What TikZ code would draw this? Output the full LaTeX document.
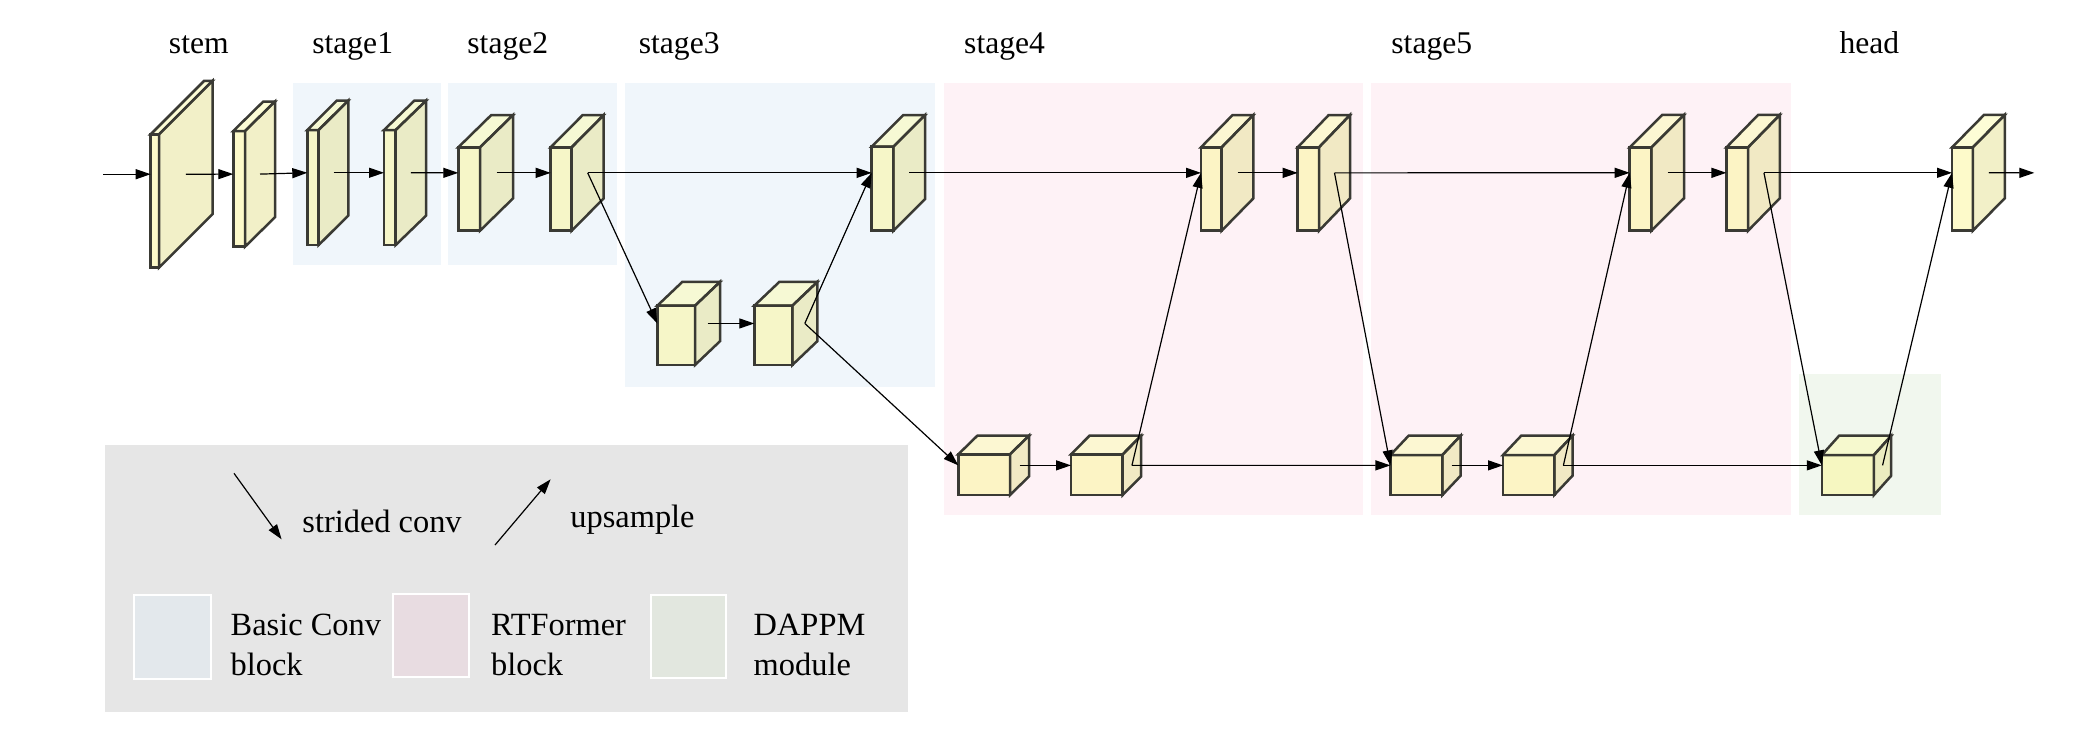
\documentclass[tikz,border=0pt]{standalone}
\usepackage{fontspec}
\setmainfont{Liberation Serif}
\usetikzlibrary{arrows.meta}
\definecolor{bgblue}{RGB}{240,246,251}
\definecolor{bgpink}{RGB}{254,242,246}
\definecolor{bggreen}{RGB}{241,247,238}
\definecolor{leggray}{RGB}{230,230,230}
\definecolor{swblue}{RGB}{227,232,236}
\definecolor{swpink}{RGB}{232,220,225}
\definecolor{swgreen}{RGB}{226,231,223}
\definecolor{cbfront}{RGB}{252,247,150}
\definecolor{cbside}{RGB}{230,226,147}
\definecolor{cbtop}{RGB}{252,252,175}
\definecolor{cbline}{RGB}{58,58,52}
\newcommand{\cuboid}[7]{%
  \pgfmathsetmacro{\cbXa}{#2}%
  \pgfmathsetmacro{\cbXb}{#2+#4}%
  \pgfmathsetmacro{\cbXc}{#2+#4+#6}%
  \pgfmathsetmacro{\cbXd}{#2+#6}%
  \pgfmathsetmacro{\cbYa}{#3}%
  \pgfmathsetmacro{\cbYb}{#3+#5}%
  \pgfmathsetmacro{\cbYt}{#3-#7}%
  \pgfmathsetmacro{\cbYbt}{#3+#5-#7}%
  \pgfmathsetmacro{\cbYm}{#3+#5/2-#7/2}%
  \pgfmathsetmacro{\cbXo}{#2+#4+#6/2}%
  \draw[boxline, fill=cbfront] (\cbXa,\cbYa) rectangle (\cbXb,\cbYb);
  \draw[boxline, fill=cbtop] (\cbXa,\cbYa) -- (\cbXd,\cbYt) -- (\cbXc,\cbYt) -- (\cbXb,\cbYa) -- cycle;
  \draw[boxline, fill=cbside] (\cbXb,\cbYa) -- (\cbXc,\cbYt) -- (\cbXc,\cbYbt) -- (\cbXb,\cbYb) -- cycle;
  \coordinate (#1-in) at (\cbXa,\cbYm);
  \coordinate (#1-out) at (\cbXo,\cbYm);
}
\begin{document}
\begin{tikzpicture}[x=0.5pt,y=-0.5pt,
  boxline/.style={draw=cbline, line width=1.25pt, line join=miter, fill opacity=0.5},
  arr/.style={-{Triangle[length=7.5pt,width=5pt]}, line width=0.6pt, black},
  lab/.style={font=\fontsize{15.8}{19}\selectfont, inner sep=0pt, anchor=base},
  legtext/.style={font=\fontsize{16.2}{19}\selectfont, inner sep=0pt, anchor=base west}]
\useasboundingbox (0,0) rectangle (2082,736);
\fill[white] (0,0) rectangle (2082,736);
% stage backgrounds
\fill[bgblue] (292.7,82.7) rectangle (440.7,265.3);
\fill[bgblue] (448.3,82.7) rectangle (616.7,265.3);
\fill[bgblue] (625,82.7) rectangle (935,386.7);
\fill[bgpink] (944,82.7) rectangle (1363.3,515);
\fill[bgpink] (1371,82.7) rectangle (1791,515);
\fill[bggreen] (1799,374.3) rectangle (1941,515);
% legend background
\fill[leggray] (104.5,445) rectangle (908,711.7);
% stage labels
\node[lab] (lstem) at (198.8,53.3) {stem};
\node[lab] (lst1) at (352.7,53.3) {stage1};
\node[lab] (lst2) at (507.8,53.3) {stage2};
\node[lab] (lst3) at (679.2,53.3) {stage3};
\node[lab] (lst4) at (1004.6,53.3) {stage4};
\node[lab] (lst5) at (1431.8,53.3) {stage5};
\node[lab] (lhead) at (1869.4,53.3) {head};
% cuboids
\cuboid{stemA}{150.7}{134.3}{8.3}{133.3}{53.5}{53.5}
\cuboid{stemB}{233.3}{131}{11.7}{115.7}{30}{29.5}
\cuboid{sAa}{307.3}{130}{11.4}{115}{29.6}{29.5}
\cuboid{sAb}{384}{130}{11.7}{115}{30.5}{29.5}
\cuboid{sBa}{458.3}{147.3}{21.7}{83.4}{33}{32.3}
\cuboid{sBb}{550.7}{147.3}{21}{83.4}{32}{32.3}
\cuboid{sCt}{871.7}{146.7}{21.6}{84}{31.7}{31.7}
\cuboid{sCa}{657.3}{305.7}{37.7}{59.3}{25}{23.8}
\cuboid{sCb}{754.3}{305.7}{38}{59.3}{25}{23.8}
\cuboid{sDta}{1201}{147.3}{20.7}{83.4}{31.6}{32.3}
\cuboid{sDtb}{1297.7}{147.3}{21.3}{83.4}{31}{32.3}
\cuboid{sDla}{958.3}{454.3}{51.7}{40.7}{19}{18.6}
\cuboid{sDlb}{1071}{454.3}{51.7}{40.7}{18.5}{18.6}
\cuboid{sEta}{1629.7}{147.4}{21.7}{83.3}{32.6}{32.5}
\cuboid{sEtb}{1726.4}{147.4}{21.7}{83.3}{31.7}{32.5}
\cuboid{sEla}{1390.4}{455}{52}{40}{18.2}{19.3}
\cuboid{sElb}{1503}{455}{51.3}{40}{18.2}{19.3}
\cuboid{hdt}{1952}{147.4}{20.8}{83.3}{32}{32.5}
\cuboid{hdl}{1821.8}{455}{52.1}{40}{17.3}{19.3}
\coordinate (inp) at (103.3,174.2);
\coordinate (outp) at (2034.3,172.85);
% connectors
\draw[arr] (inp) -- (stemA-in);
\draw[arr] (stemA-out) -- (stemB-in);
\draw[arr] (stemB-out) -- (sAa-in);
\draw[arr] (sAa-out) -- (sAb-in);
\draw[arr] (sAb-out) -- (sBa-in);
\draw[arr] (sBa-out) -- (sBb-in);
\draw[arr] (sBb-out) -- (sCt-in);
\draw[arr] (sBb-out) -- (sCa-in);
\draw[arr] (sCa-out) -- (sCb-in);
\draw[arr] (sCb-out) -- (sCt-in);
\draw[arr] (sCb-out) -- (sDla-in);
\draw[arr] (sCt-out) -- (sDta-in);
\draw[arr] (sDla-out) -- (sDlb-in);
\draw[arr] (sDlb-out) -- (sDta-in);
\draw[arr] (sDta-out) -- (sDtb-in);
\draw[arr] (sDtb-out) -- (sEta-in);
\draw[arr] (sDtb-out) -- (sEla-in);
\draw[arr] (sDlb-out) -- (sEla-in);
\draw[arr] (sEla-out) -- (sElb-in);
\draw[arr] (sElb-out) -- (sEta-in);
\draw[arr] (sEta-out) -- (sEtb-in);
\draw[arr] (sEtb-out) -- (hdt-in);
\draw[arr] (sEtb-out) -- (hdl-in);
\draw[arr] (sElb-out) -- (hdl-in);
\draw[arr] (hdl-out) -- (hdt-in);
\draw[arr] (hdt-out) -- (outp);
% legend
\coordinate (lgsA) at (234,473.3);
\coordinate (lgsB) at (281.6,539.3);
\coordinate (lguA) at (495,545);
\coordinate (lguB) at (550.6,479.3);
\draw[arr] (lgsA) -- (lgsB);
\draw[arr] (lguA) -- (lguB);
\node[legtext] (tstr) at (302,532.7) {strided conv};
\node[legtext] (tups) at (570,527.3) {upsample};
\draw[draw=white, line width=1pt, fill=swblue] (134,595) rectangle (210.7,679.3);
\draw[draw=white, line width=1pt, fill=swpink] (393.3,594) rectangle (468.5,677.3);
\draw[draw=white, line width=1pt, fill=swgreen] (651,595) rectangle (726.3,678.3);
\node[legtext] (tbc1) at (230.3,635) {Basic Conv};
\node[legtext] (tbc2) at (230.3,675) {block};
\node[legtext] (trt1) at (490.7,635) {RTFormer};
\node[legtext] (trt2) at (490.7,675) {block};
\node[legtext] (tdp1) at (753.3,635) {DAPPM};
\node[legtext] (tdp2) at (753.3,675) {module};
\end{tikzpicture}
\end{document}
